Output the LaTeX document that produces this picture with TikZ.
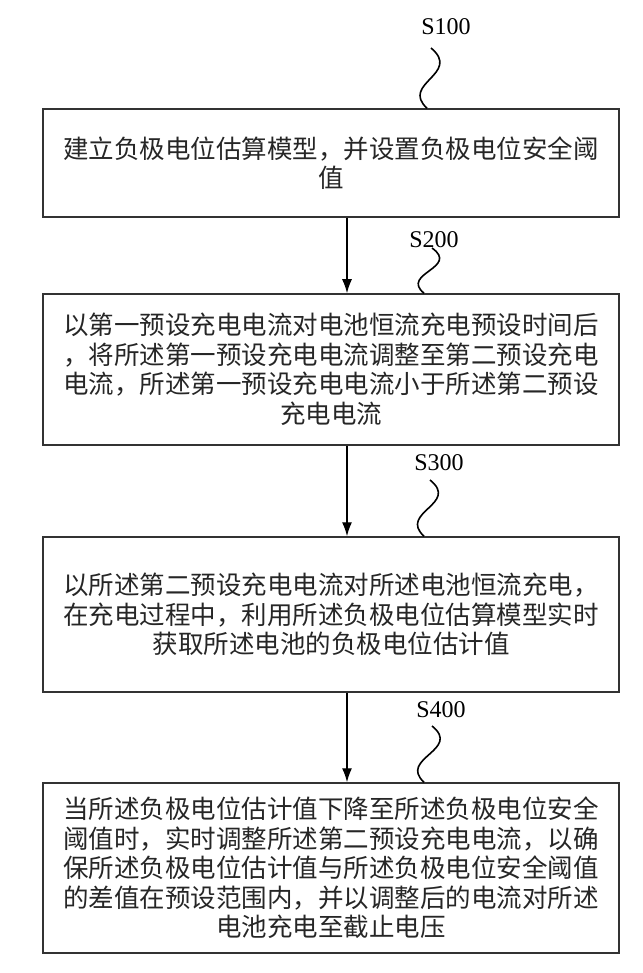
\documentclass[tikz,border=0pt]{standalone}
\usepackage{fontspec}
\setmainfont{Liberation Serif}
\newfontfamily\cjk{Noto Sans CJK SC}
\usetikzlibrary{arrows.meta}
\begin{document}
\begin{tikzpicture}[x=1pt,y=-1pt,
  box/.style={draw=black!80, line width=1.5pt, minimum width=576pt, align=center, inner sep=0pt,
    font=\cjk\fontsize{25.5}{29.5}\selectfont, text=black!85},
  lab/.style={font=\fontsize{24}{24}\selectfont, inner sep=0pt},
  arr/.style={line width=1.3pt, -{Latex[length=14pt,width=10pt]}},
  sq/.style={line width=1.6pt}]
\useasboundingbox (0,0) rectangle (642,973);
\node[box, minimum height=108pt] (b1) at (331,163) {建立负极电位估算模型，并设置负极电位安全阈\\值};
\node[box, minimum height=151pt] (b2) at (331,369.5) {以第一预设充电电流对电池恒流充电预设时间后\\，将所述第一预设充电电流调整至第二预设充电\\电流，所述第一预设充电电流小于所述第二预设\\充电电流};
\node[box, minimum height=155pt] (b3) at (331,614.5) {以所述第二预设充电电流对所述电池恒流充电，\\在充电过程中，利用所述负极电位估算模型实时\\获取所述电池的负极电位估计值};
\node[box, minimum height=170pt] (b4) at (331,868) {当所述负极电位估计值下降至所述负极电位安全\\阈值时，实时调整所述第二预设充电电流，以确\\保所述负极电位估计值与所述负极电位安全阈值\\的差值在预设范围内，并以调整后的电流对所述\\电池充电至截止电压};
\node[lab] (l1) at (446,27) {S100};
\node[lab] (l2) at (434,240) {S200};
\node[lab] (l3) at (439,463) {S300};
\node[lab] (l4) at (441,710) {S400};
\coordinate (ax) at (347,0);
\coordinate (x1) at (427,0);
\coordinate (x2) at (424,0);
\coordinate (t1) at (431,48);
\coordinate (t2) at (432,248);
\coordinate (t3) at (430,480);
\coordinate (t4) at (432,726);
\draw[arr] (b1.south -| ax) -- (b2.north -| ax);
\draw[arr] (b2.south -| ax) -- (b3.north -| ax);
\draw[arr] (b3.south -| ax) -- (b4.north -| ax);
\draw[sq] (t1) .. controls +(31,26) and +(-27,-25) .. (b1.north -| x1);
\draw[sq] (t2) .. controls +(28,20) and +(-24,-20) .. (b2.north -| x2);
\draw[sq] (t3) .. controls +(30,24) and +(-26,-24) .. (b3.north -| x2);
\draw[sq] (t4) .. controls +(30,24) and +(-26,-24) .. (b4.north -| x2);
\end{tikzpicture}
\end{document}
